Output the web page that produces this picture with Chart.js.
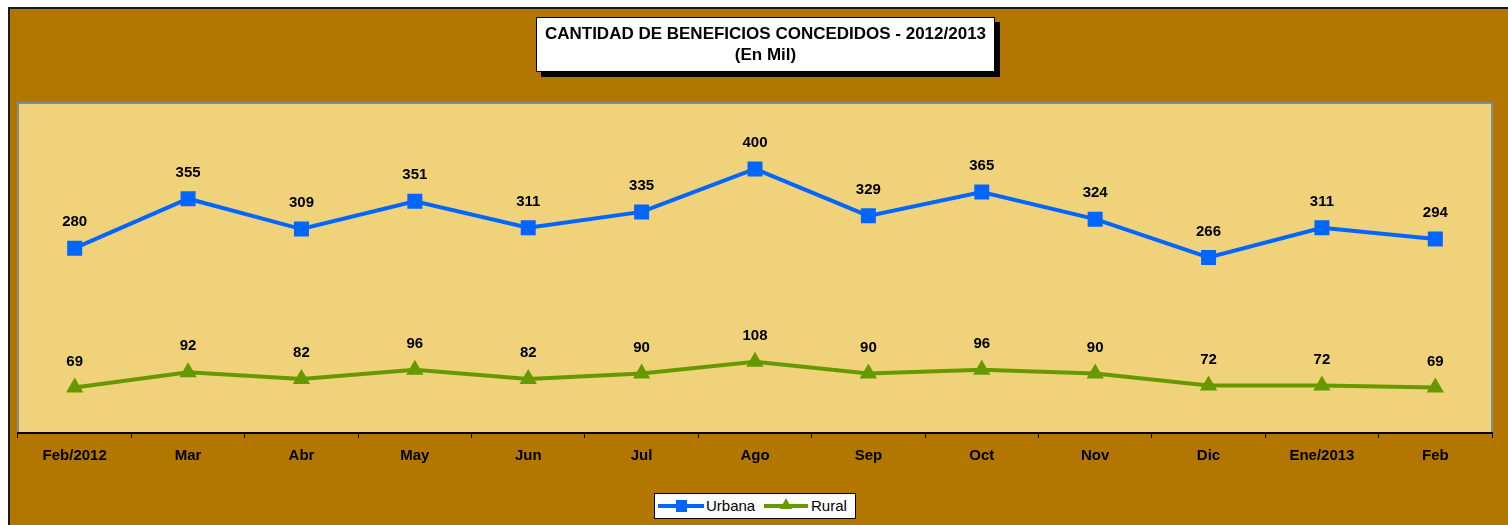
<!DOCTYPE html>
<html>
<head>
<meta charset="utf-8">
<script src="https://cdn.jsdelivr.net/npm/chart.js@4/dist/chart.umd.min.js"></script>
<style>
  html, body { margin: 0; padding: 0; background: #fff; }
  #wrap { position: relative; width: 1508px; height: 525px; overflow: hidden; }
  canvas { position: absolute; left: 0; top: 0; }
  #title {
    position: absolute; left: 536px; top: 17px; width: 459px; height: 55px;
    background: #fff; border: 1px solid #000; box-shadow: 5px 5px 0 #000;
    font: bold 17px "Liberation Sans", Arial, sans-serif; color: #000;
    text-align: center; line-height: 21px; padding-top: 5px; box-sizing: border-box;
  }
  #title div { height: 21px; }
  #legend {
    position: absolute; left: 654px; top: 493px; width: 202px; height: 26px;
    background: #fff; border: 1px solid #000; box-sizing: border-box;
    font: 15px "Liberation Sans", Arial, sans-serif; color: #000;
  }
  .item { position: absolute; top: 0; height: 24px; line-height: 24px; }
  .ln { position: absolute; top: 10px; height: 4px; width: 46px; }
  .mk { position: absolute; }
  .txt { position: absolute; left: 48px; top: 0; white-space: nowrap; }
</style>
</head>
<body>
<div id="wrap">
  <canvas id="c" width="1508" height="525"></canvas>
  <div id="title"><div>CANTIDAD DE BENEFICIOS CONCEDIDOS - 2012/2013</div><div>(En Mil)</div></div>
  <div id="legend">
    <div class="item" style="left:3px;width:100px;">
      <div class="ln" style="background:#0066FF;left:0;"></div>
      <div class="mk" style="left:18px;top:6px;width:11px;height:12px;background:#0066FF;"></div>
      <span class="txt">Urbana</span>
    </div>
    <div class="item" style="left:109px;width:90px;">
      <div class="ln" style="background:#669900;left:0;width:44px;"></div>
      <div class="mk" style="left:16px;top:4px;width:0;height:0;border-left:6px solid transparent;border-right:6px solid transparent;border-bottom:11px solid #669900;"></div>
      <span class="txt" style="left:47px;">Rural</span>
    </div>
  </div>
</div>
<script>
const categories = ["Feb/2012","Mar","Abr","May","Jun","Jul","Ago","Sep","Oct","Nov","Dic","Ene/2013","Feb"];
const urbana = [280,355,309,351,311,335,400,329,365,324,266,311,294];
const rural  = [69,92,82,96,82,90,108,90,96,90,72,72,69];
const yMin = 0, yMax = 500;

const BROWN = '#B37700';
const PLOT = '#F0D27B';

const bgPlugin = {
  id: 'bg',
  beforeDraw(chart) {
    const ctx = chart.ctx;
    ctx.save();
    ctx.fillStyle = '#fff';
    ctx.fillRect(0, 0, chart.width, chart.height);
    ctx.fillStyle = BROWN;
    ctx.fillRect(9, 8, chart.width - 9, chart.height - 8);
    ctx.fillStyle = '#1a1a1a';
    ctx.fillRect(8, 7, chart.width - 8, 2);
    ctx.fillRect(8, 7, 2, chart.height - 7);
    const a = chart.chartArea;
    ctx.fillStyle = PLOT;
    ctx.fillRect(a.left, a.top, a.right - a.left, a.bottom - a.top);
    ctx.strokeStyle = '#7F8C99';
    ctx.lineWidth = 2;
    ctx.beginPath();
    ctx.moveTo(a.left, a.bottom);
    ctx.lineTo(a.left, a.top);
    ctx.lineTo(a.right, a.top);
    ctx.lineTo(a.right, a.bottom);
    ctx.stroke();
    ctx.restore();
  }
};

const labelPlugin = {
  id: 'vlabels',
  afterDatasetsDraw(chart) {
    const ctx = chart.ctx;
    ctx.save();
    ctx.font = 'bold 15px "Liberation Sans", Arial, sans-serif';
    ctx.fillStyle = '#000';
    ctx.textAlign = 'center';
    ctx.textBaseline = 'middle';
    chart.data.datasets.forEach((ds, i) => {
      const meta = chart.getDatasetMeta(i);
      meta.data.forEach((pt, j) => {
        ctx.fillText(String(ds.data[j]), pt.x, pt.y - 26);
      });
    });
    ctx.restore();
  }
};

new Chart(document.getElementById('c'), {
  type: 'line',
  data: {
    labels: categories,
    datasets: [
      {
        label: 'Urbana', data: urbana,
        borderColor: '#0066FF', backgroundColor: '#0066FF',
        borderWidth: 4, pointStyle: 'rect', pointRadius: 10.6, pointHoverRadius: 10.6,
        pointBorderWidth: 0, tension: 0
      },
      {
        label: 'Rural', data: rural,
        borderColor: '#669900', backgroundColor: '#669900',
        borderWidth: 4, pointStyle: 'triangle', pointRadius: 10, pointHoverRadius: 10,
        pointBorderWidth: 0, tension: 0
      }
    ]
  },
  options: {
    responsive: false,
    animation: false,
    events: [],
    layout: { padding: { left: 18, right: 16, top: 103, bottom: 0 } },
    plugins: { legend: { display: false }, title: { display: false }, tooltip: { enabled: false } },
    scales: {
      x: {
        offset: true,
        grid: { display: true, offset: true, drawOnChartArea: false, drawTicks: true, tickLength: 5, color: '#000', lineWidth: 1 },
        border: { display: true, color: '#000', width: 2 },
        ticks: {
          color: '#000', padding: 9, maxRotation: 0, autoSkip: false,
          font: { family: '"Liberation Sans", Arial, sans-serif', size: 15, weight: 'bold' }
        },
        afterFit(scale) { scale.height = 92; }
      },
      y: {
        display: false, min: yMin, max: yMax
      }
    }
  },
  plugins: [bgPlugin, labelPlugin]
});
</script>
</body>
</html>
